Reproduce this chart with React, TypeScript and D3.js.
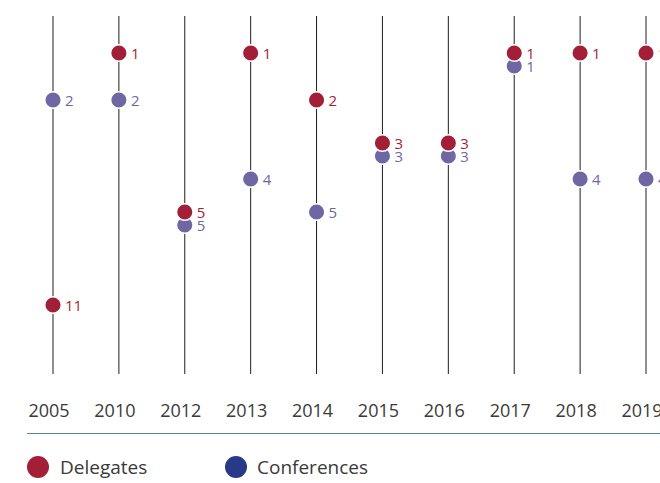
import React from "react";
import * as d3 from "d3";

const years = ["2005", "2010", "2012", "2013", "2014", "2015", "2016", "2017", "2018", "2019"];
const delegates = [11, 1, 5, 1, 2, 3, 3, 1, 1, 1];
const conferences = [2, 2, 5, 4, 5, 3, 3, 1, 4, 4];
const rankStops = [1, 2, 3, 4, 5, 11];

const RED = "#a31f37";
const PURPLE = "#6f67a4";
const NAVY = "#283a87";
const TEXT = "#3a3a3a";
const FONT = "'Open Sans', sans-serif";

const width = 660;
const height = 483;

const Dot = ({ x, y, color, label }) => (
    <g>
        <circle cx={x} cy={y} r={8.3} fill={color} stroke="#fff" strokeWidth={1.5} />
        <text x={x + 12} y={y + 5.5} fill={color} fontSize="15" fontFamily={FONT}>{label}</text>
    </g>
);

const App = () => {
    const x = d3.scalePoint().domain(years).range([53, 646]);
    // rank -> vertical position, spacing shrinks for lower ranks
    const y = d3.scaleLinear().domain(rankStops).range([53, 100, 143, 179, 212, 305]);
    const dodge = 13;

    return (
        <svg width={width} height={height} style={{ position: "absolute", left: 0, top: 0 }}>
            {years.map((yr, i) => (
                <line key={yr} x1={x(yr)} x2={x(yr)} y1={16} y2={374} stroke="#1e1e1e" strokeWidth={1} />
            ))}
            {years.map((yr, i) => {
                const same = delegates[i] === conferences[i];
                return (
                    <g key={"c" + yr}>
                        <Dot x={x(yr)} y={y(conferences[i]) + (same ? dodge : 0)} color={PURPLE} label={conferences[i]} />
                        <Dot x={x(yr)} y={y(delegates[i])} color={RED} label={delegates[i]} />
                    </g>
                );
            })}
            {years.map(yr => (
                <text key={"t" + yr} x={x(yr) - 4} y={417} textAnchor="middle" fontSize="18" fontFamily={FONT} fill={TEXT}>{yr}</text>
            ))}
            <line x1={27} x2={width} y1={433.5} y2={433.5} stroke="#4f8c8c" strokeWidth={1.2} />
            <g transform="translate(38 467)">
                <circle r={11} fill={RED} />
                <text x={22} y={6.5} fontSize="19" fontFamily={FONT} fill={TEXT}>Delegates</text>
            </g>
            <g transform="translate(236 467)">
                <circle r={11} fill={NAVY} />
                <text x={21} y={6.5} fontSize="19" fontFamily={FONT} fill={TEXT}>Conferences</text>
            </g>
        </svg>
    );
};

export default App;
